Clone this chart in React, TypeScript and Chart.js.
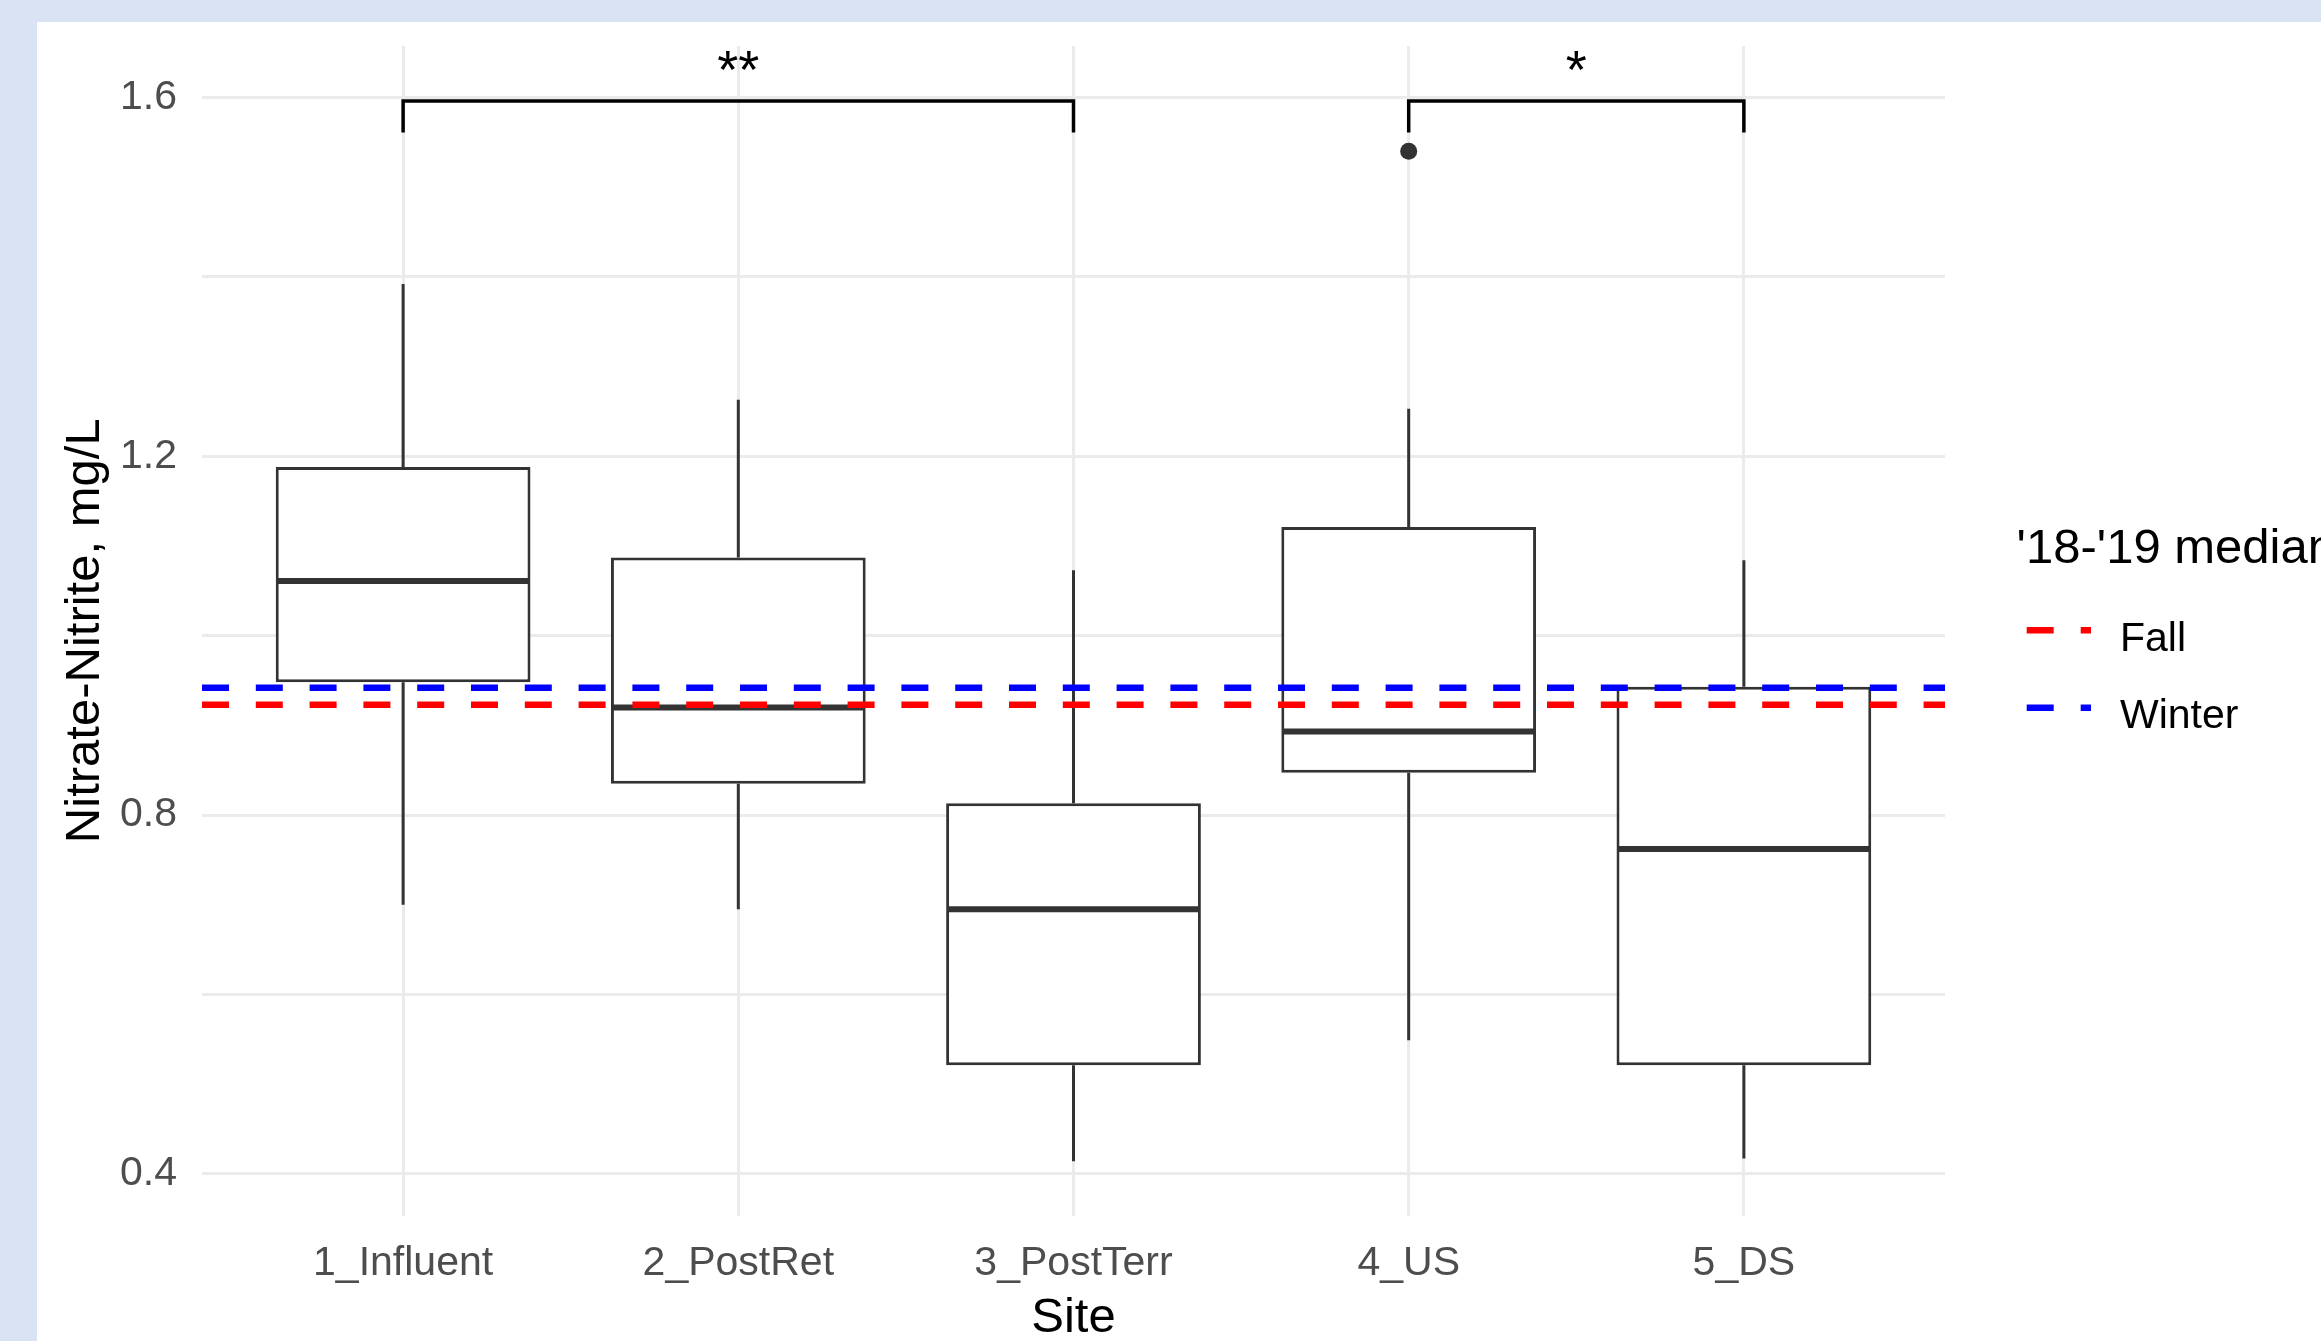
import React, { useEffect, useRef } from 'react';
import { Chart, registerables } from 'chart.js';

Chart.register(...registerables);

// ---------- data ----------
const categories = ['1_Influent', '2_PostRet', '3_PostTerr', '4_US', '5_DS'];
const whiskerLow = [0.700, 0.695, 0.414, 0.549, 0.417];
const q1 = [0.948, 0.835, 0.521, 0.847, 0.521];
const medians = [1.061, 0.920, 0.695, 0.893, 0.762];
const q3 = [1.188, 1.087, 0.813, 1.121, 0.943];
const whiskerHigh = [1.392, 1.263, 1.073, 1.253, 1.084];

const outlierSite = [3];
const outlierValue = [1.540];

const seasonLabels = ['Fall', 'Winter'];
const seasonMedians = [0.923, 0.942];
const legendTitle = "'18-'19 median";

const bracketFrom = [0, 3];
const bracketTo = [2, 4];
const bracketY = [1.596, 1.596];
const bracketTipY = [1.561, 1.561];
const bracketLabels = ['**', '*'];

const yTickValues = [0.4, 0.6, 0.8, 1.0, 1.2, 1.4, 1.6];
const yTickLabels = ['0.4', '', '0.8', '', '1.2', '', '1.6'];

const xTitle = 'Site';
const yTitle = 'Nitrate-Nitrite, mg/L';

// ---------- styles / layout ----------
const FONT = '"Liberation Sans", Arial, Helvetica, sans-serif';
const seasonColors = ['#FF0000', '#0000FF'];
const X_MIN = -0.6;
const X_MAX = 4.6;
const Y_MIN = 0.3535;
const Y_MAX = 1.6574;
const BOX_WIDTH = 0.75;
const BOX_COLOR = '#333333';
const GRID_COLOR = '#EBEBEB';
const CANVAS_W = 2284;
const CANVAS_H = 1319;

const annotationPlugin = {
  id: 'annotations',
  afterDatasetsDraw(chart: any) {
    const { ctx, scales } = chart;
    const x = scales.x;
    const y = scales.y;
    ctx.save();
    ctx.fillStyle = '#000000';
    ctx.textAlign = 'center';
    ctx.textBaseline = 'alphabetic';
    ctx.font = `54px ${FONT}`;
    bracketLabels.forEach((lab, j) => {
      const cx = (x.getPixelForValue(bracketFrom[j]) + x.getPixelForValue(bracketTo[j])) / 2;
      const by = y.getPixelForValue(bracketY[j]);
      ctx.fillText(lab, cx, by - 13);
    });
    ctx.restore();
  },
  afterDraw(chart: any) {
    const { ctx, chartArea } = chart;
    const left = chartArea.right + 81.7;
    ctx.save();
    ctx.fillStyle = '#000000';
    ctx.textAlign = 'left';
    ctx.textBaseline = 'alphabetic';
    ctx.font = `49px ${FONT}`;
    ctx.fillText(legendTitle, left - 10.1, 540.7);
    seasonLabels.forEach((lab, i) => {
      const ky = 608.3 + i * 77.4;
      ctx.beginPath();
      ctx.setLineDash([27, 27]);
      ctx.lineWidth = 6.5;
      ctx.lineCap = 'butt';
      ctx.strokeStyle = seasonColors[i];
      ctx.moveTo(left, ky);
      ctx.lineTo(left + 64.3, ky);
      ctx.stroke();
      ctx.setLineDash([]);
      ctx.font = `41px ${FONT}`;
      ctx.fillText(lab, left + 93.3, ky + 20.4);
    });
    ctx.restore();
  },
};

export default function App() {
  const ref = useRef<HTMLCanvasElement>(null);

  useEffect(() => {
    const canvas = ref.current;
    if (!canvas) return;

    const whiskerData: any[] = [];
    categories.forEach((_, i) => {
      whiskerData.push({ x: i, y: whiskerLow[i] }, { x: i, y: q1[i] }, { x: i, y: null });
      whiskerData.push({ x: i, y: q3[i] }, { x: i, y: whiskerHigh[i] }, { x: i, y: null });
    });
    const medianData: any[] = [];
    categories.forEach((_, i) => {
      medianData.push(
        { x: i - BOX_WIDTH / 2, y: medians[i] },
        { x: i + BOX_WIDTH / 2, y: medians[i] },
        { x: i, y: null }
      );
    });
    const bracketData: any[] = [];
    bracketLabels.forEach((_, j) => {
      bracketData.push(
        { x: bracketFrom[j], y: bracketTipY[j] },
        { x: bracketFrom[j], y: bracketY[j] },
        { x: bracketTo[j], y: bracketY[j] },
        { x: bracketTo[j], y: bracketTipY[j] },
        { x: bracketTo[j], y: null }
      );
    });

    const lineBase = {
      type: 'line',
      pointRadius: 0,
      pointHitRadius: 0,
      tension: 0,
      spanGaps: false,
      fill: false,
      borderCapStyle: 'butt',
    };

    const datasets: any[] = [
      {
        type: 'bar',
        label: 'IQR',
        data: categories.map((_, i) => ({ x: i, y: [q1[i], q3[i]] })),
        backgroundColor: '#FFFFFF',
        borderColor: BOX_COLOR,
        borderWidth: 3,
        borderSkipped: false,
        barPercentage: 0.76,
        categoryPercentage: 1,
        grouped: false,
        order: 5,
      },
      {
        ...lineBase,
        label: 'whiskers',
        data: whiskerData,
        borderColor: BOX_COLOR,
        borderWidth: 3,
        order: 4,
      },
      {
        ...lineBase,
        label: 'medians',
        data: medianData,
        borderColor: BOX_COLOR,
        borderWidth: 6,
        order: 3,
      },
      {
        type: 'line',
        label: 'outliers',
        data: outlierSite.map((s, i) => ({ x: s, y: outlierValue[i] })),
        showLine: false,
        pointRadius: 8.5,
        pointBorderWidth: 0,
        pointBackgroundColor: BOX_COLOR,
        pointBorderColor: BOX_COLOR,
        order: 2,
      },
      ...seasonLabels.map((lab, i) => ({
        ...lineBase,
        label: lab,
        data: [
          { x: X_MIN, y: seasonMedians[i] },
          { x: X_MAX, y: seasonMedians[i] },
        ],
        borderColor: seasonColors[i],
        borderWidth: 6.5,
        borderDash: [27, 26.8],
        order: 1,
      })),
      {
        ...lineBase,
        label: 'brackets',
        data: bracketData,
        borderColor: '#000000',
        borderWidth: 3.5,
        borderJoinStyle: 'miter',
        order: 0,
      },
    ];

    const chart = new Chart(canvas, {
      type: 'bar',
      data: { datasets },
      options: {
        responsive: false,
        animation: false,
        devicePixelRatio: 1,
        events: [],
        layout: { padding: { top: 24, right: 376, bottom: 0, left: 0 } },
        plugins: {
          legend: { display: false },
          tooltip: { enabled: false },
          title: { display: false },
        },
        scales: {
          x: {
            type: 'linear',
            min: X_MIN,
            max: X_MAX,
            offset: false,
            grid: { color: GRID_COLOR, lineWidth: 3, drawTicks: false, offset: false },
            border: { display: false },
            afterBuildTicks: (s: any) => {
              s.ticks = categories.map((_, i) => ({ value: i }));
            },
            afterFit: (s: any) => {
              s.height = 125.5;
              s.paddingLeft = 0;
              s.paddingRight = 0;
            },
            ticks: {
              autoSkip: false,
              maxRotation: 0,
              minRotation: 0,
              padding: 27.5,
              color: '#4D4D4D',
              font: { family: FONT, size: 41, lineHeight: 1 },
              callback: (v: any) => categories[v] ?? '',
            },
            title: {
              display: true,
              text: xTitle,
              color: '#000000',
              font: { family: FONT, size: 49, lineHeight: 0.92 },
              padding: { top: 0, bottom: 0 },
            },
          },
          y: {
            type: 'linear',
            min: Y_MIN,
            max: Y_MAX,
            grid: { color: GRID_COLOR, lineWidth: 3, drawTicks: false },
            border: { display: false },
            afterBuildTicks: (s: any) => {
              s.ticks = yTickValues.map((v) => ({ value: v }));
            },
            afterFit: (s: any) => {
              s.width = 165;
              s.paddingTop = 0;
              s.paddingBottom = 0;
            },
            ticks: {
              autoSkip: false,
              padding: 25,
              color: '#4D4D4D',
              font: { family: FONT, size: 41, lineHeight: 1 },
              callback: (_v: any, i: number) => yTickLabels[i] ?? '',
            },
            title: {
              display: true,
              text: yTitle,
              color: '#000000',
              font: { family: FONT, size: 49, lineHeight: 1 },
              padding: { top: 23.5, bottom: 0 },
            },
          },
        },
      } as any,
      plugins: [annotationPlugin],
    } as any);

    return () => chart.destroy();
  }, []);

  return (
    <div
      style={{
        position: 'fixed',
        left: 0,
        top: 0,
        width: 2321,
        height: 1341,
        background: '#DAE3F3',
        overflow: 'hidden',
      }}
    >
      <div
        style={{
          position: 'absolute',
          left: 37,
          top: 22,
          width: CANVAS_W,
          height: CANVAS_H,
          background: '#FFFFFF',
        }}
      >
        <canvas
          ref={ref}
          width={CANVAS_W}
          height={CANVAS_H}
          style={{ display: 'block', width: CANVAS_W, height: CANVAS_H }}
        />
      </div>
    </div>
  );
}
